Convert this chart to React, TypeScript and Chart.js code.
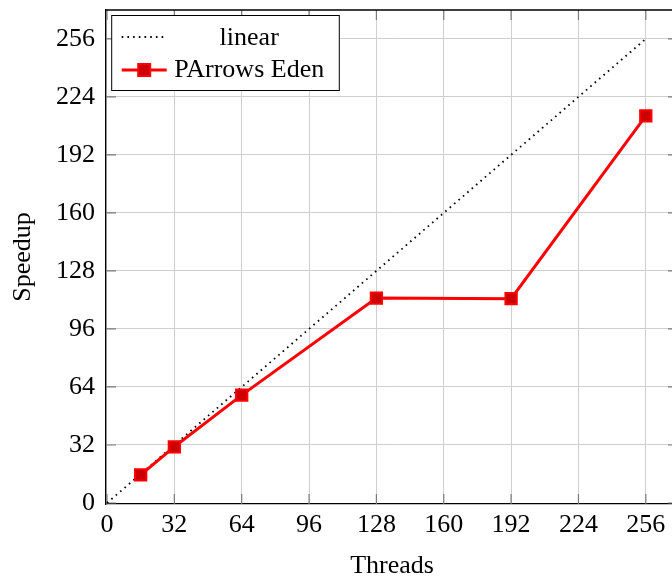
import React, { useEffect, useRef } from "react";
import { Chart, registerables } from "chart.js";

Chart.register(...registerables);

const threads = [16, 32, 64, 128, 192, 256];
const speedup = [15.5, 31, 59.5, 113, 112.7, 213.5];
const linearX = [0, 256];
const linearY = [0, 256];
const xTicks = [0, 32, 64, 96, 128, 160, 192, 224, 256];
const yTicks = [0, 32, 64, 96, 128, 160, 192, 224, 256];
const seriesNames = ["linear", "PArrows Eden"];
const xTitle = "Threads";
const yTitle = "Speedup";

const FONT = "'Liberation Serif', 'Times New Roman', serif";
const FS = 26;
const RED = "#ff0000";
const DARKRED = "#cc0000";

const framePlugin = {
  id: "frame",
  beforeDatasetsDraw(chart: any) {
    const { ctx, chartArea, scales } = chart;
    const { left, right, top, bottom } = chartArea;
    ctx.save();
    ctx.strokeStyle = "#7a7a7a";
    ctx.lineWidth = 1.2;
    const tl = 10;
    ctx.beginPath();
    xTicks.forEach((v) => {
      const x = scales.x.getPixelForValue(v);
      ctx.moveTo(x, bottom);
      ctx.lineTo(x, bottom - tl);
      ctx.moveTo(x, top);
      ctx.lineTo(x, top + tl);
    });
    yTicks.forEach((v) => {
      const y = scales.y.getPixelForValue(v);
      ctx.moveTo(left, y);
      ctx.lineTo(left + tl, y);
      ctx.moveTo(right, y);
      ctx.lineTo(right - tl, y);
    });
    ctx.stroke();
    ctx.restore();
  },
  afterDraw(chart: any) {
    const { ctx, chartArea } = chart;
    const { left, right, top, bottom } = chartArea;
    ctx.save();
    ctx.strokeStyle = "#000";
    ctx.lineWidth = 1.3;
    ctx.beginPath();
    ctx.moveTo(left, top);
    ctx.lineTo(right, top);
    ctx.lineTo(right, bottom);
    ctx.stroke();

    // legend
    const lx = left + 5.7;
    const ly = top + 5.5;
    const lw = 227.6;
    const lh = 75;
    ctx.fillStyle = "#fff";
    ctx.fillRect(lx, ly, lw, lh);
    ctx.strokeStyle = "#000";
    ctx.lineWidth = 1;
    ctx.strokeRect(lx, ly, lw, lh);

    const sx0 = lx + 10;
    const sx1 = lx + 55;
    const r1 = ly + 21.5;
    const r2 = ly + 54.5;
    ctx.strokeStyle = "#000";
    ctx.lineWidth = 1.8;
    ctx.setLineDash([1.6, 4.1]);
    ctx.beginPath();
    ctx.moveTo(sx0, r1);
    ctx.lineTo(sx1, r1);
    ctx.stroke();
    ctx.setLineDash([]);
    ctx.strokeStyle = RED;
    ctx.lineWidth = 3;
    ctx.beginPath();
    ctx.moveTo(sx0, r2);
    ctx.lineTo(sx1, r2);
    ctx.stroke();
    const cx = (sx0 + sx1) / 2;
    ctx.fillStyle = DARKRED;
    ctx.fillRect(cx - 6, r2 - 6, 12, 12);
    ctx.strokeStyle = RED;
    ctx.lineWidth = 2;
    ctx.strokeRect(cx - 6, r2 - 6, 12, 12);

    ctx.fillStyle = "#000";
    ctx.font = `${FS}px ${FONT}`;
    ctx.textAlign = "center";
    ctx.textBaseline = "alphabetic";
    const tc = lx + 137.5;
    ctx.fillText(seriesNames[0], tc, ly + 29);
    ctx.fillText(seriesNames[1], tc, ly + 61);

    ctx.fillText(xTitle, (left + right) / 2, 573);
    ctx.save();
    ctx.translate(30, (top + bottom) / 2);
    ctx.rotate(-Math.PI / 2);
    ctx.fillText(yTitle, 0, 0);
    ctx.restore();
    ctx.restore();
  },
};

export default function App() {
  const ref = useRef<HTMLCanvasElement | null>(null);
  useEffect(() => {
    if (!ref.current) return;
    const chart = new Chart(ref.current, {
      type: "line",
      data: {
        datasets: [
          {
            label: seriesNames[1],
            data: threads.map((t, i) => ({ x: t, y: speedup[i] })),
            borderColor: RED,
            borderWidth: 3,
            backgroundColor: DARKRED,
            pointStyle: "rect",
            pointRadius: 8,
            pointBorderWidth: 2,
            pointBorderColor: RED,
            pointBackgroundColor: DARKRED,
            tension: 0,
            order: 0,
          },
          {
            label: seriesNames[0],
            data: linearX.map((x, i) => ({ x, y: linearY[i] })),
            borderColor: "#000",
            borderWidth: 1.8,
            borderDash: [1.6, 4.2],
            pointRadius: 0,
            tension: 0,
            order: 1,
          },
        ],
      },
      options: {
        responsive: false,
        devicePixelRatio: 1,
        animation: false,
        layout: { padding: { top: 9.5, right: 12, left: 0, bottom: 0 } },
        plugins: {
          legend: { display: false },
          tooltip: { enabled: false },
        },
        scales: {
          x: {
            type: "linear",
            min: -0.475,
            max: 271.3,
            afterBuildTicks: (s: any) => {
              s.ticks = xTicks.map((v) => ({ value: v }));
            },
            afterFit: (s: any) => {
              s.height = 77;
              s.paddingLeft = 0;
              s.paddingRight = 0;
            },
            grid: { color: "#cfcfcf", lineWidth: 1, drawTicks: false },
            border: { color: "#000", width: 1.3 },
            ticks: {
              color: "#000",
              font: { family: FONT, size: FS },
              padding: 6,
              maxRotation: 0,
              autoSkip: false,
              callback: (v: any) => String(v),
            },
          },
          y: {
            type: "linear",
            min: -0.55,
            max: 271.9,
            afterBuildTicks: (s: any) => {
              s.ticks = yTicks.map((v) => ({ value: v }));
            },
            afterFit: (s: any) => {
              s.width = 106;
              s.paddingTop = 0;
              s.paddingBottom = 0;
            },
            grid: { color: "#cfcfcf", lineWidth: 1, drawTicks: false },
            border: { color: "#000", width: 1.3 },
            ticks: {
              color: "#000",
              font: { family: FONT, size: FS },
              padding: 11,
              autoSkip: false,
              callback: (v: any) => String(v),
            },
          },
        },
      },
      plugins: [framePlugin],
    });
    return () => chart.destroy();
  }, []);
  return (
    <div
      style={{
        position: "fixed",
        left: 0,
        top: 0,
        width: 672,
        height: 581,
        overflow: "hidden",
        background: "#fff",
      }}
    >
      <canvas ref={ref} width={690} height={581} style={{ display: "block" }} />
    </div>
  );
}
